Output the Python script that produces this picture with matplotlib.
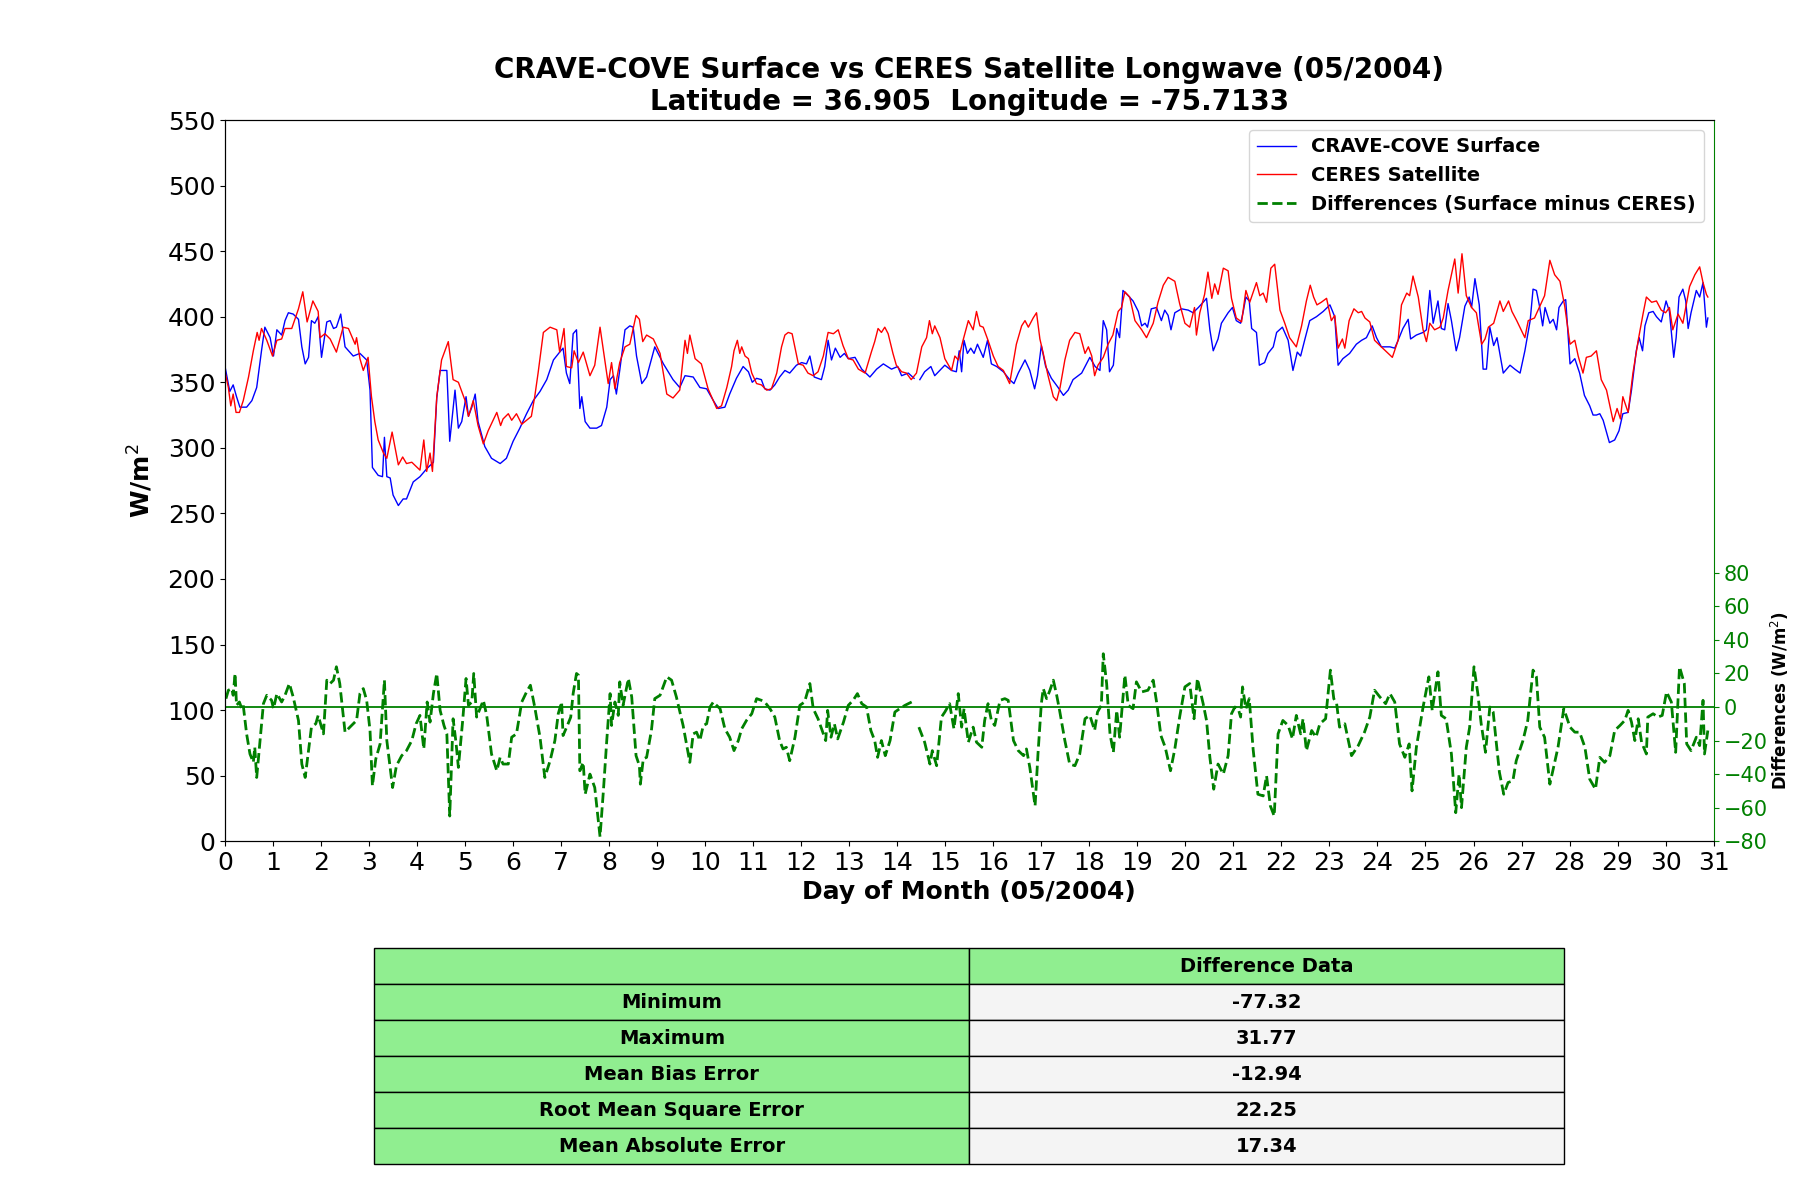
import numpy as np
import matplotlib
matplotlib.use("Agg")
import matplotlib.pyplot as plt

# ---------------- data ----------------
surface_days = [0.00,0.10,0.17,0.24,0.31,0.45,0.56,0.66,0.76,0.83,0.94,1.01,1.08,1.18,1.25,1.32,1.42,1.53,1.60,1.67,
1.74,1.80,1.87,1.94,2.01,2.12,2.19,2.26,2.32,2.41,2.50,2.67,2.81,2.95,3.02,3.07,3.19,3.28,3.32,3.37,
3.44,3.50,3.61,3.71,3.78,3.92,4.06,4.20,4.34,4.41,4.48,4.62,4.68,4.79,4.86,4.93,5.02,5.07,5.14,5.21,
5.27,5.41,5.55,5.73,5.86,6.00,6.14,6.28,6.42,6.56,6.70,6.84,6.97,7.04,7.11,7.18,7.25,7.32,7.39,7.43,
7.50,7.60,7.74,7.84,7.95,8.02,8.09,8.15,8.22,8.33,8.43,8.50,8.57,8.68,8.78,8.95,9.13,9.33,9.47,9.58,
9.75,9.89,10.03,10.17,10.27,10.41,10.51,10.65,10.79,10.90,10.98,11.07,11.17,11.24,11.35,11.45,11.55,11.66,11.76,11.90,
12.01,12.11,12.18,12.27,12.42,12.49,12.56,12.63,12.71,12.81,12.90,12.98,13.12,13.26,13.43,13.57,13.71,13.88,14.01,14.09,
14.23,14.35,14.40,14.47,14.57,14.70,14.78,14.99,15.13,15.23,15.29,15.34,15.39,15.46,15.53,15.60,15.67,15.79,15.88,15.96,
16.07,16.21,16.34,16.43,16.52,16.66,16.76,16.86,16.92,17.00,17.09,17.21,17.35,17.46,17.56,17.66,17.84,18.01,18.12,18.22,
18.29,18.36,18.42,18.50,18.57,18.63,18.70,18.81,18.91,19.02,19.09,19.16,19.21,19.29,19.40,19.50,19.57,19.64,19.70,19.78,
19.92,20.06,20.16,20.27,20.37,20.44,20.51,20.58,20.68,20.75,20.89,20.98,21.06,21.15,21.20,21.26,21.33,21.38,21.48,21.54,
21.65,21.72,21.83,21.90,22.02,22.14,22.24,22.33,22.40,22.49,22.59,22.73,22.87,23.01,23.11,23.18,23.28,23.42,23.56,23.67,
23.77,23.89,23.98,24.08,24.26,24.36,24.43,24.53,24.64,24.69,24.81,24.95,25.02,25.09,25.16,25.26,25.33,25.40,25.47,25.54,
25.64,25.71,25.82,25.91,25.96,26.03,26.12,26.20,26.27,26.34,26.42,26.49,26.62,26.76,26.86,26.97,27.07,27.18,27.24,27.31,
27.38,27.44,27.49,27.59,27.66,27.73,27.78,27.87,27.92,28.01,28.11,28.21,28.31,28.42,28.49,28.56,28.63,28.70,28.83,28.94,
29.03,29.11,29.22,29.29,29.39,29.45,29.52,29.57,29.65,29.74,29.81,29.91,30.01,30.08,30.17,30.22,30.28,30.36,30.42,30.47,
30.53,30.64,30.71,30.78,30.85,30.88]
surface_vals = [362,343,348,339,331,331,336,346,374,392,384,370,390,386,397,403,402,398,377,364,
369,397,395,400,369,396,397,391,392,402,377,370,372,367,344,285,279,278,308,278,
277,264,256,261,261,274,278,284,289,338,359,359,305,344,315,320,339,324,331,341,
320,301,292,288,292,305,315,326,336,343,352,367,373,376,357,349,387,390,330,339,
320,315,315,317,331,352,355,341,359,390,393,392,370,349,354,377,364,352,346,355,
354,346,345,336,330,331,341,353,362,358,350,353,352,345,344,348,354,359,357,363,
365,364,370,354,352,362,382,367,376,369,372,368,369,360,354,360,364,360,362,355,
357,353,np.nan,352,358,362,355,363,359,358,374,358,382,372,376,372,379,369,382,364,
362,358,352,349,357,367,359,345,355,378,362,353,346,340,344,352,357,369,362,359,
397,390,358,363,391,384,420,416,412,404,393,395,392,406,407,397,405,401,390,403,
406,405,403,407,411,414,390,374,383,395,403,407,397,395,403,415,412,391,388,363,
365,372,377,388,392,382,359,373,370,383,397,400,404,409,400,363,368,372,379,382,
384,393,384,377,377,376,382,391,398,383,386,388,390,420,395,412,391,390,410,397,
374,384,408,415,407,429,409,360,360,392,378,384,357,363,360,357,374,397,421,420,
407,393,407,395,398,390,407,412,413,364,368,357,340,332,325,325,326,321,304,306,
313,326,327,344,374,384,374,393,403,404,400,396,412,404,369,384,415,421,412,391,
403,420,415,426,392,399]

ceres_days = [0.00,0.07,0.12,0.17,0.23,0.30,0.38,0.49,0.59,0.67,0.71,0.76,0.87,0.99,1.08,1.18,1.25,1.39,1.53,1.62,
1.71,1.83,1.94,1.98,2.08,2.19,2.32,2.46,2.57,2.71,2.74,2.81,2.88,2.98,3.05,3.12,3.19,3.30,3.37,3.48,
3.61,3.70,3.78,3.89,4.06,4.14,4.20,4.27,4.32,4.41,4.51,4.65,4.75,4.86,5.00,5.07,5.17,5.27,5.38,5.48,
5.66,5.74,5.79,5.90,5.97,6.07,6.18,6.28,6.38,6.45,6.52,6.63,6.77,6.91,6.97,7.06,7.11,7.22,7.27,7.36,
7.46,7.60,7.70,7.81,7.98,8.05,8.12,8.22,8.33,8.43,8.56,8.63,8.70,8.78,8.92,9.06,9.20,9.33,9.47,9.58,
9.63,9.68,9.79,9.92,10.06,10.24,10.34,10.45,10.55,10.60,10.67,10.72,10.76,10.83,10.90,10.97,11.07,11.17,11.28,11.38,
11.49,11.59,11.66,11.73,11.81,11.94,12.04,12.14,12.25,12.35,12.46,12.56,12.67,12.77,12.87,12.98,13.08,13.19,13.33,13.46,
13.53,13.60,13.67,13.74,13.81,13.91,13.98,14.09,14.19,14.29,14.40,14.51,14.61,14.67,14.73,14.78,14.89,14.99,15.13,15.20,
15.27,15.37,15.48,15.58,15.65,15.72,15.79,15.89,16.00,16.10,16.21,16.34,16.48,16.59,16.66,16.73,16.83,16.90,16.97,17.04,
17.14,17.25,17.32,17.39,17.49,17.59,17.70,17.80,17.91,17.98,18.05,18.11,18.18,18.29,18.39,18.49,18.60,18.67,18.74,18.84,
18.95,19.09,19.19,19.33,19.43,19.54,19.64,19.78,19.88,19.99,20.09,20.19,20.23,20.30,20.40,20.47,20.55,20.61,20.68,20.79,
20.89,20.96,21.06,21.17,21.26,21.34,21.48,21.55,21.62,21.69,21.78,21.86,21.97,22.07,22.17,22.31,22.42,22.52,22.60,22.67,
22.74,22.83,22.94,23.04,23.11,23.18,23.27,23.32,23.41,23.51,23.60,23.67,23.74,23.84,23.94,24.08,24.31,24.43,24.50,24.61,
24.67,24.74,24.85,24.95,25.02,25.09,25.19,25.30,25.37,25.47,25.61,25.68,25.76,25.85,25.96,26.06,26.17,26.24,26.31,26.42,
26.49,26.55,26.62,26.73,26.80,26.90,27.07,27.14,27.27,27.38,27.48,27.59,27.69,27.80,27.90,28.01,28.11,28.18,28.28,28.35,
28.45,28.56,28.66,28.77,28.91,28.99,29.06,29.11,29.22,29.32,29.43,29.53,29.60,29.71,29.81,29.91,30.00,30.08,30.15,30.26,
30.36,30.50,30.61,30.71,30.78,30.85,30.88]
ceres_vals = [358,346,332,341,327,327,336,354,374,388,382,391,382,370,382,383,391,391,406,419,
396,412,404,384,387,383,373,392,391,379,384,368,359,369,339,320,306,296,292,312,
287,293,288,289,283,306,282,296,282,339,367,381,352,350,336,324,336,317,303,313,
327,317,322,326,321,326,318,321,324,339,357,388,392,390,373,391,362,361,374,365,
373,355,363,392,349,365,345,365,377,379,401,398,381,386,383,372,341,338,344,382,
372,386,368,364,345,330,332,346,362,374,382,372,377,370,368,357,349,348,344,345,
357,377,386,388,387,364,363,357,355,358,370,388,387,390,378,368,367,360,357,373,
381,391,388,392,387,372,363,358,357,352,357,377,384,397,387,393,384,368,359,370,
367,382,397,390,404,393,392,382,370,362,359,349,379,393,397,392,399,403,383,372,
355,339,336,346,367,382,388,387,372,377,370,355,363,369,379,386,404,407,419,415,
397,390,384,395,411,424,430,427,410,395,392,407,386,403,417,434,414,425,417,437,
435,414,399,396,420,411,426,416,418,411,437,440,405,395,384,377,393,412,424,415,
409,411,414,397,401,376,383,376,397,406,403,404,399,396,382,377,369,382,409,418,
416,431,415,390,381,395,390,392,399,420,444,418,448,416,407,403,379,383,392,395,
404,412,404,412,404,397,384,397,399,408,416,443,432,427,408,379,382,370,357,369,
370,374,352,344,320,330,322,339,327,357,382,402,415,411,412,405,403,407,390,402,
395,423,432,438,426,417,415]

diff_days = [0.02,0.07,0.14,0.17,0.21,0.24,0.30,0.35,0.38,0.45,0.52,0.59,0.62,0.66,0.73,0.80,0.87,0.97,1.01,1.08,
1.18,1.25,1.34,1.42,1.53,1.60,1.67,1.74,1.80,1.89,1.94,2.05,2.12,2.19,2.26,2.32,2.39,2.50,2.60,2.74,
2.81,2.88,2.95,3.02,3.07,3.14,3.23,3.32,3.37,3.49,3.57,3.68,3.78,3.89,3.98,4.06,4.14,4.21,4.27,4.34,
4.41,4.48,4.56,4.62,4.68,4.75,4.81,4.86,4.95,5.02,5.07,5.14,5.18,5.24,5.31,5.38,5.45,5.55,5.66,5.73,
5.79,5.90,5.97,6.07,6.18,6.28,6.36,6.45,6.56,6.66,6.77,6.87,6.94,7.01,7.04,7.13,7.20,7.25,7.32,7.36,
7.39,7.46,7.50,7.60,7.70,7.81,7.88,7.95,8.02,8.05,8.12,8.19,8.22,8.29,8.40,8.47,8.56,8.63,8.65,8.71,
8.78,8.88,8.95,9.06,9.20,9.30,9.40,9.54,9.61,9.68,9.75,9.82,9.89,9.96,10.03,10.10,10.17,10.20,10.31,10.41,
10.51,10.60,10.69,10.76,10.86,10.97,11.07,11.17,11.24,11.35,11.45,11.55,11.62,11.69,11.76,11.87,11.97,12.07,12.18,12.25,
12.35,12.46,12.51,12.55,12.62,12.69,12.76,12.88,12.98,13.08,13.17,13.26,13.36,13.45,13.53,13.59,13.67,13.75,13.85,13.95,
14.05,14.16,14.30,14.38,14.45,14.57,14.68,14.73,14.82,14.92,14.99,15.09,15.18,15.27,15.34,15.39,15.48,15.58,15.65,15.76,
15.82,15.89,15.96,16.03,16.14,16.24,16.31,16.42,16.52,16.63,16.69,16.76,16.87,16.93,17.00,17.04,17.11,17.18,17.25,17.32,
17.38,17.49,17.59,17.70,17.80,17.91,18.01,18.11,18.17,18.25,18.29,18.36,18.43,18.50,18.57,18.63,18.74,18.81,18.91,18.98,
19.09,19.22,19.33,19.40,19.49,19.58,19.69,19.78,19.88,19.99,20.09,20.18,20.25,20.37,20.44,20.51,20.59,20.68,20.79,20.89,
20.96,21.03,21.10,21.15,21.19,21.26,21.33,21.41,21.51,21.62,21.69,21.77,21.85,21.93,22.03,22.14,22.23,22.31,22.40,22.45,
22.52,22.63,22.72,22.80,22.92,23.02,23.09,23.15,23.21,23.32,23.46,23.60,23.73,23.84,23.94,24.05,24.17,24.26,24.36,24.46,
24.57,24.66,24.72,24.81,24.95,25.07,25.14,25.26,25.33,25.43,25.54,25.63,25.70,25.75,25.85,25.92,26.01,26.09,26.16,26.25,
26.34,26.41,26.47,26.54,26.63,26.72,26.82,26.89,27.03,27.13,27.24,27.31,27.38,27.48,27.59,27.69,27.76,27.88,28.01,28.11,
28.21,28.32,28.42,28.54,28.63,28.73,28.84,28.94,29.05,29.15,29.22,29.29,29.36,29.43,29.50,29.60,29.63,29.74,29.84,29.93,
30.02,30.12,30.21,30.29,30.39,30.44,30.53,30.64,30.71,30.78,30.81,30.88]
diff_vals = [5,10,11,7,20,1,3,-1,1,-16,-28,-33,-24,-42,-20,2,7,4,-1,8,
3,7,14,6,-8,-34,-42,-26,-12,-10,-5,-16,16,14,16,24,14,-15,-12,-8,
8,11,4,-14,-47,-31,-22,16,-20,-48,-35,-29,-26,-20,-10,-5,-25,3,-9,8,
20,-2,-11,-16,-65,-7,-21,-36,-8,17,1,3,20,-6,-1,4,-5,-28,-38,-30,
-34,-34,-18,-16,3,9,13,0,-18,-42,-32,-20,-4,3,-17,-11,-6,8,20,19,
-38,-33,-52,-40,-48,-77.32,-50,-20,8,-11,3,-5,15,1,17,6,-29,-35,-46,-31,
-30,-14,5,7,18,16,6,-11,-22,-33,-16,-15,-20,-11,-10,0,3,2,-1,-13,
-18,-26,-20,-13,-8,-4,5,4,3,-1,-6,-20,-25,-24,-32,-18,1,3,14,-1,
-7,-16,-20,-2,-18,-10,-19,-9,1,4,8,2,0,-14,-20,-30,-20,-29,-20,-3,
-1,1,3,np.nan,-12,-21,-34,-26,-35,-6,-3,2,-13,8,-12,-1,-21,-12,-21,-24,
-8,2,-8,-11,4,5,4,-20,-26,-29,-25,-36,-59,-28,2,11,5,10,16,7,
-2,-20,-34,-35,-28,-7,-5,-14,-3,1,31.77,14,-16,-27,-2,-18,19,1,-1,15,
9,10,16,3,-17,-24,-38,-25,-6,12,14,-7,17,2,-8,-30,-49,-34,-40,-29,
-4,0,-1,-6,12,-1,5,-25,-52,-53,-41,-59,-65,-16,-8,-11,-19,-5,-16,-7,
-26,-14,-18,-10,-7,22,5,2,-12,-10,-29,-23,-15,-6,10,6,2,8,3,-22,
-30,-22,-50,-24,0,18,-2,21,-5,-7,-28,-63,-40,-60,-24,-12,24,8,-10,-27,
0,-3,-20,-39,-52,-45,-44,-32,-20,-8,22,18,-12,-18,-46,-33,-24,-1,-12,-15,
-15,-24,-43,-49,-30,-33,-29,-14,-11,-8,-2,-9,-20,-7,-21,-28,-6,-4,-6,-5,
9,3,-27,24,14,-22,-26,-18,-23,4,-28,-14]

left_ticks = list(range(0, 551, 50))
right_ticks = list(range(-80, 81, 20))
day_ticks = list(range(0, 32))

stat_names = ["Minimum", "Maximum", "Mean Bias Error", "Root Mean Square Error", "Mean Absolute Error"]
stat_values = ["-77.32", "31.77", "-12.94", "22.25", "17.34"]

# ---------------- figure ----------------
fig = plt.figure(figsize=(18, 12), dpi=100)
ax = fig.add_axes([0.125, 0.299, 0.827, 0.601])

l1, = ax.plot(surface_days, surface_vals, color="blue", lw=1.0, label="CRAVE-COVE Surface")
l2, = ax.plot(ceres_days, ceres_vals, color="red", lw=1.0, label="CERES Satellite")
ax.set_xlim(0, 31)
ax.set_ylim(0, 550)
ax.set_xticks(day_ticks)
ax.set_yticks(left_ticks)
ax.tick_params(axis="both", labelsize=18)
ax.set_xlabel("Day of Month (05/2004)", fontsize=18, fontweight="bold")
ax.set_ylabel("W/m$^2$", fontsize=18, fontweight="bold", labelpad=9)
ax.set_title("CRAVE-COVE Surface vs CERES Satellite Longwave (05/2004)\n"
             "Latitude = 36.905  Longitude = -75.7133",
             fontsize=20, fontweight="bold", pad=7)
ax.spines["right"].set_visible(False)

ax2 = ax.twinx()
l3, = ax2.plot(diff_days, diff_vals, color="green", lw=2.0, ls="--",
               label="Differences (Surface minus CERES)")
ax2.axhline(0, color="green", lw=1.3)
ax2.set_ylim(-80, 350)
ax2.set_yticks(right_ticks)
ax2.tick_params(axis="y", colors="green", labelsize=15)
ax2.spines["right"].set_color("green")
ax2.set_ylabel("Differences (W/m$^2$)", fontsize=12, fontweight="bold")
ax2.yaxis.set_label_coords(1.037, 0.195)

ax2.legend(handles=[l1, l2, l3], loc="upper right",
           prop={"size": 14, "weight": "bold"})

# ---------------- table ----------------
tax = fig.add_axes([0.208, 0.03, 0.661, 0.18])
tax.axis("off")
cell_text = [[n, v] for n, v in zip(stat_names, stat_values)]
green = "#90ee90"
grey = "#f4f4f4"
cell_colours = [[green, grey] for _ in stat_names]
tbl = tax.table(cellText=cell_text, colLabels=["", "Difference Data"],
                cellColours=cell_colours, colColours=[green, green],
                cellLoc="center", bbox=[0, 0, 1, 1])
tbl.auto_set_font_size(False)
for (r, c), cell in tbl.get_celld().items():
    cell.set_edgecolor("black")
    cell.set_linewidth(1.0)
    cell.get_text().set_fontsize(14)
    cell.get_text().set_fontweight("bold")

fig.savefig("out.png", dpi=100)
